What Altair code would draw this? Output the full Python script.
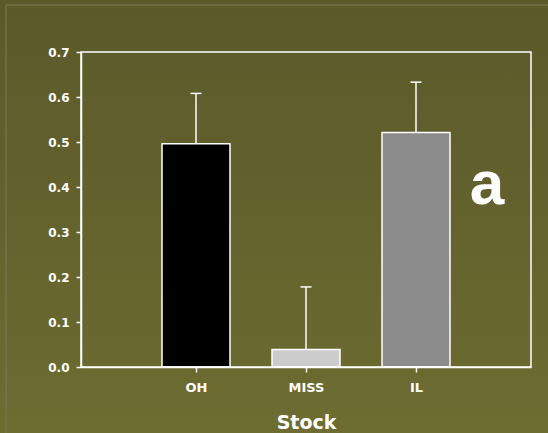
import altair as alt
import pandas as pd

# Stock means with upper standard-error bars
stocks = ["OH", "MISS", "IL"]
positions = [1, 2, 3]
means = [0.496, 0.039, 0.521]
errors = [0.112, 0.139, 0.112]
bar_colors = ["#000000", "#cccccc", "#8c8c8c"]

y_ticks = [0.0, 0.1, 0.2, 0.3, 0.4, 0.5, 0.6, 0.7]
panel_label = "a"

df = pd.DataFrame({
    "stock": stocks,
    "pos": positions,
    "mean": means,
    "upper": [m + e for m, e in zip(means, errors)],
})

W, H = 450, 315
PAD_L, PAD_T, PAD_R, PAD_B = 81, 52, 17, 66
WHITE = "#ffffff"

label_lookup = "['', " + ", ".join(f"'{s}'" for s in stocks) + "]"

x_enc = alt.X(
    "pos:Q",
    scale=alt.Scale(domain=[0, 4], nice=False, zero=False),
    axis=alt.Axis(
        values=positions,
        labelExpr=f"{label_lookup}[datum.value]",
        title="Stock",
        titleFont="DejaVu Sans",
        titleFontSize=19,
        titleFontWeight="bold",
        titleColor=WHITE,
        titleX=225,
        titleY=61,
        titleAlign="center",
        titleBaseline="alphabetic",
        labelFont="DejaVu Sans",
        labelFontSize=13,
        labelFontWeight="bold",
        labelColor=WHITE,
        labelPadding=9,
        tickSize=5,
        tickColor=WHITE,
        tickWidth=1.5,
        domainColor=WHITE,
        domainWidth=1.5,
        grid=False,
        zindex=1,
    ),
)

y_enc = alt.Y(
    "mean:Q",
    scale=alt.Scale(domain=[0, 0.7], nice=False),
    axis=alt.Axis(
        values=y_ticks,
        format=".1f",
        title=None,
        labelFont="DejaVu Sans",
        labelFontSize=12,
        labelFontWeight="bold",
        labelColor=WHITE,
        labelPadding=7,
        tickSize=5,
        tickColor=WHITE,
        tickWidth=1.5,
        domainColor=WHITE,
        domainWidth=1.5,
        grid=False,
        zindex=1,
    ),
)

one_row = alt.Data(values=[{"k": 0}])

# Olive slide background with a soft vertical gradient
background = alt.Chart(one_row).mark_rect(
    clip=False,
    fill=alt.LinearGradient(
        gradient="linear",
        stops=[
            alt.GradientStop(color="#5a592a", offset=0),
            alt.GradientStop(color="#6d6c31", offset=1),
        ],
        x1=0, x2=0, y1=0, y2=1,
    ),
).encode(
    x=alt.value(-PAD_L), x2=alt.value(W + PAD_R),
    y=alt.value(-PAD_T), y2=alt.value(H + PAD_B),
)

# Faint slide frame
frame = alt.Chart(one_row).mark_rect(
    clip=False, fill=None, stroke="#7b7a55", strokeWidth=1,
).encode(
    x=alt.value(6 - PAD_L), x2=alt.value(W + 60),
    y=alt.value(5 - PAD_T), y2=alt.value(H + 80),
)

# Box around the plot area
box = alt.Chart(one_row).mark_rect(
    fill=None, stroke=WHITE, strokeWidth=1.5,
).encode(
    x=alt.value(0), x2=alt.value("width"),
    y=alt.value(0), y2=alt.value("height"),
)

base = alt.Chart(df)

bars = base.mark_bar(size=68, stroke=WHITE, strokeWidth=1.5).encode(
    x=x_enc,
    y=y_enc,
    color=alt.Color("stock:N", scale=alt.Scale(domain=stocks, range=bar_colors), legend=None),
)

whisker = base.mark_rule(color=WHITE, strokeWidth=1.5).encode(
    x="pos:Q", y="mean:Q", y2="upper:Q",
)

cap = base.mark_rule(color=WHITE, strokeWidth=1.5, xOffset=-5.5, x2Offset=5.5).encode(
    x="pos:Q", x2="pos:Q", y="upper:Q",
)

label = alt.Chart(one_row).mark_text(
    text=panel_label,
    font="Liberation Sans",
    fontSize=62,
    fontWeight="bold",
    color=WHITE,
    align="center",
    baseline="alphabetic",
    clip=False,
).encode(
    x=alt.value(487 - PAD_L),
    y=alt.value(204 - PAD_T),
)

chart = alt.layer(background, frame, whisker, cap, bars, box, label).properties(
    width=W,
    height=H,
    padding={"left": PAD_L, "top": PAD_T, "right": PAD_R, "bottom": PAD_B},
    autosize=alt.AutoSizeParams(type="none"),
    background="#636230",
).configure_view(stroke=None)

chart.save("out.html", embed_options={"renderer": "svg", "actions": False})
